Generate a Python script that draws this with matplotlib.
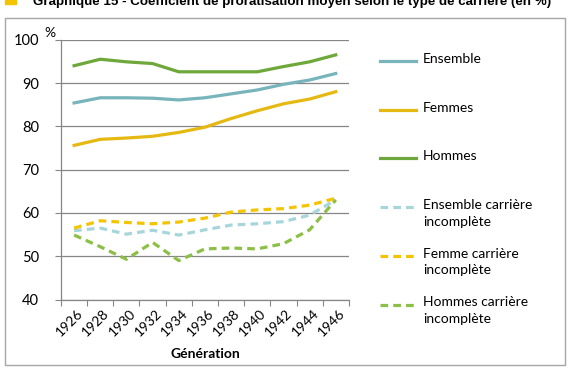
import matplotlib.pyplot as plt
from matplotlib.lines import Line2D
from matplotlib.patches import Rectangle
from matplotlib.transforms import ScaledTranslation

# Coefficient de proratisation moyen selon le type de carriere (en %)
generations = ['1926', '1928', '1930', '1932', '1934', '1936',
               '1938', '1940', '1942', '1944', '1946']

ensemble = [85.4, 86.6, 86.6, 86.5, 86.1, 86.6, 87.5, 88.4, 89.7, 90.7, 92.2]
femmes = [75.6, 77.0, 77.3, 77.7, 78.6, 79.8, 81.8, 83.6, 85.2, 86.3, 88.0]
hommes = [94.0, 95.5, 94.9, 94.5, 92.6, 92.6, 92.6, 92.6, 93.8, 94.9, 96.5]
ensemble_inc = [55.9, 56.5, 55.1, 56.0, 54.9, 56.1, 57.2, 57.5, 58.0, 59.5, 63.0]
femmes_inc = [56.5, 58.2, 57.8, 57.5, 57.9, 58.8, 60.2, 60.7, 61.0, 61.8, 63.4]
hommes_inc = [54.9, 52.2, 49.3, 53.2, 49.0, 51.7, 51.9, 51.7, 52.9, 56.1, 63.0]

series = [
    (ensemble, 'Ensemble', '#78b4bc', '-'),
    (femmes, 'Femmes', '#e6b912', '-'),
    (hommes, 'Hommes', '#6ea83a', '-'),
    (ensemble_inc, 'Ensemble carrière\nincomplète', '#a6d6dc', '--'),
    (femmes_inc, 'Femme carrière\nincomplète', '#f5c400', '--'),
    (hommes_inc, 'Hommes carrière\nincomplète', '#8cbf45', '--'),
]

plt.rcParams['font.family'] = ['Lato', 'DejaVu Sans']

fig = plt.figure(figsize=(5.7, 3.68), dpi=100)
ax = fig.add_axes([0.107, 0.186, 0.505, 0.706])

x = list(range(len(generations)))
for vals, lab, col, ls in series:
    if ls == '--':
        ax.plot(x, vals, color=col, lw=2.3, ls=(0, (2.4, 1.6)))
    else:
        ax.plot(x, vals, color=col, lw=2.3)

ax.set_ylim(40, 100)
ax.set_yticks(range(40, 101, 10))
ax.set_xlim(-0.5, len(generations) - 0.5)
ax.set_xticks([i - 0.5 for i in range(len(generations) + 1)])
ax.set_xticklabels([])
ax.set_xticks(x, minor=True)
ax.set_xticklabels(generations, minor=True, rotation=45, fontsize=10,
                   ha='right', va='center', rotation_mode='anchor')
ax.tick_params(axis='x', which='minor', length=0, pad=4)
ax.tick_params(axis='x', which='major', length=4, color='#868686', direction='out')
ax.tick_params(axis='y', length=4, color='#868686', labelsize=10.5, pad=12)
shift = ScaledTranslation(7 / 100, -6 / 100, fig.dpi_scale_trans)
for lbl in ax.get_xticklabels(minor=True):
    lbl.set_transform(lbl.get_transform() + shift)

ax.grid(axis='y', color='#868686', lw=0.9)
ax.set_axisbelow(True)
for s in ['top', 'right']:
    ax.spines[s].set_visible(False)
for s in ['left', 'bottom']:
    ax.spines[s].set_color('#868686')
    ax.spines[s].set_linewidth(0.9)

ax.set_xlabel('Génération', fontsize=10, fontweight='bold', labelpad=7)
fig.text(44 / 570, 1 - 33 / 368, '%', fontsize=10, ha='left', va='center')

# legende
for i, (vals, lab, col, ls) in enumerate(series):
    yy = 1 - (61 + i * 48.7) / 368
    if ls == '--':
        fig.add_artist(Line2D([380 / 570, 416 / 570], [yy, yy], color=col,
                              lw=2.3, ls=(0, (2.4, 1.6))))
    else:
        fig.add_artist(Line2D([380 / 570, 416 / 570], [yy, yy], color=col, lw=2.3))
    fig.text(423 / 570, yy + 8 / 368, lab, fontsize=10, ha='left', va='top',
             linespacing=1.45)

# cadre
fig.add_artist(Rectangle((5 / 570, 3 / 368), 560 / 570, 347 / 368,
                         transform=fig.transFigure, fill=False,
                         edgecolor='#a6a6a6', lw=1))

# titre (coupe en haut)
fig.add_artist(Rectangle((5 / 570, 1 - 4 / 368), 11 / 570, 6 / 368,
                         transform=fig.transFigure, color='#f5c400'))
fig.text(33 / 570, 1 - 5 / 368,
         'Graphique 15 - Coefficient de proratisation moyen selon le type de carrière (en %)',
         fontsize=9.6, fontweight='bold', family=['Liberation Sans', 'DejaVu Sans'],
         ha='left', va='baseline')

fig.savefig('out.png', dpi=100)
